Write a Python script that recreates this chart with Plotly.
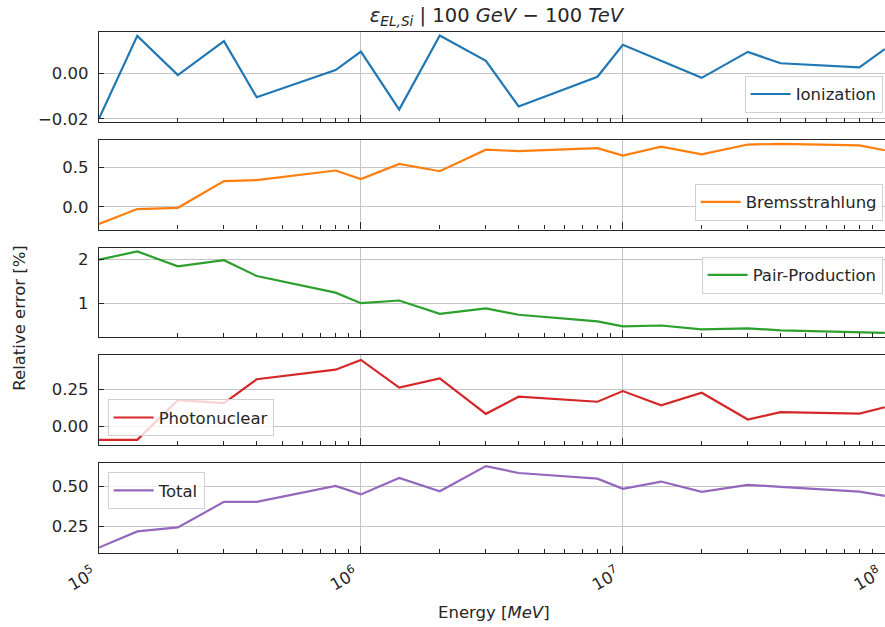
import plotly.graph_objects as go

# ---------------- data ----------------
energy_mev = [1e5, 1.4e5, 2e5, 3e5, 4e5, 8e5, 1e6, 1.4e6, 2e6, 3e6, 4e6, 8e6,
              1e7, 1.4e7, 2e7, 3e7, 4e7, 8e7, 1e8]

ionization = [-0.0199, 0.0163, -0.0009, 0.0140, -0.0106, 0.0013, 0.0094, -0.0160,
              0.0165, 0.0054, -0.0146, -0.0016, 0.0124, 0.0053, -0.0021, 0.0093,
              0.0043, 0.0025, 0.0105]
bremsstrahlung = [-0.218, -0.029, -0.013, 0.327, 0.340, 0.462, 0.353, 0.546, 0.453,
                  0.727, 0.709, 0.747, 0.651, 0.765, 0.668, 0.793, 0.801, 0.781, 0.72]
pair_production = [1.99, 2.18, 1.84, 1.98, 1.62, 1.24, 1.00, 1.06, 0.757, 0.88, 0.735,
                    0.584, 0.47, 0.49, 0.40, 0.425, 0.38, 0.34, 0.32]
photonuclear = [-0.091, -0.091, 0.178, 0.158, 0.319, 0.384, 0.45, 0.263, 0.325, 0.085,
                0.201, 0.167, 0.239, 0.143, 0.228, 0.047, 0.096, 0.087, 0.13]
total = [0.114, 0.216, 0.241, 0.402, 0.402, 0.502, 0.449, 0.553, 0.469, 0.627, 0.584,
         0.548, 0.484, 0.530, 0.465, 0.509, 0.497, 0.467, 0.44]

series_names = ["Ionization", "Bremsstrahlung", "Pair-Production", "Photonuclear", "Total"]
series_values = [ionization, bremsstrahlung, pair_production, photonuclear, total]
series_colors = ["#1f77b4", "#ff7f0e", "#2ca02c", "#d62728", "#9467bd"]

y_ranges = [[-0.0213, 0.0180], [-0.29, 0.853], [0.22, 2.266], [-0.127, 0.48], [0.080, 0.645]]
y_dticks = [0.02, 0.5, 1, 0.25, 0.25]
y_formats = [".2f", ".1f", "d", ".2f", ".2f"]

x_major = [1e5, 1e6, 1e7, 1e8]
x_major_text = ["10<sup>5</sup>", "10<sup>6</sup>", "10<sup>7</sup>", "10<sup>8</sup>"]
x_minor = [m * 10 ** d for d in (5, 6, 7) for m in range(2, 10)]

title_text = ("<i>ε</i><sub><i>EL,Si</i></sub> | 100 <i>GeV</i> − 100 <i>TeV</i>")
ylabel_text = "Relative error [%]"
xlabel_text = "Energy [<i>MeV</i>]"

# ---------------- layout constants ----------------
W, H = 885, 627
ML, MR, MT, MB = 99, 0, 32, 73.5
FONT = "DejaVu Sans"
FS = 16.5
INK = "#262626"
GRID = "#c4c4c4"

n = 5
ph = 89.8 / (H - MT - MB)
gap = (1 - n * ph) / (n - 1)
domains = []
for i in range(n):
    top = 1 - i * (ph + gap)
    domains.append([max(0, top - ph), min(1, top)])

legend_pos = [
    dict(x=0.997, y=0.845, xanchor="right", yanchor="bottom"),
    dict(x=0.997, y=0.638, xanchor="right", yanchor="bottom"),
    dict(x=0.997, y=0.569, xanchor="right", yanchor="top"),
    dict(x=0.011, y=0.224, xanchor="left", yanchor="bottom"),
    dict(x=0.011, y=0.155, xanchor="left", yanchor="top"),
]

fig = go.Figure()
layout = dict(
    width=W, height=H,
    margin=dict(l=ML, r=MR, t=MT, b=MB, pad=0, autoexpand=False),
    paper_bgcolor="white", plot_bgcolor="white",
    font=dict(family=FONT, size=FS, color=INK),
    showlegend=True,
)

for i in range(n):
    k = "" if i == 0 else str(i + 1)
    lg = "legend" if i == 0 else f"legend{i + 1}"
    fig.add_trace(go.Scatter(
        x=energy_mev, y=series_values[i], mode="lines", name=series_names[i],
        line=dict(color=series_colors[i], width=2.2),
        xaxis=f"x{k}", yaxis=f"y{k}", legend=lg, showlegend=True,
    ))
    layout[f"xaxis{k}"] = dict(
        type="log", range=[5, 8.0008], domain=[0, 1], anchor=f"y{k}",
        matches=None if i == 0 else "x", automargin=False,
        tickmode="array", tickvals=x_major, ticktext=x_major_text,
        showticklabels=(i == n - 1), tickangle=-30, ticklabeloverflow="allow",
        ticklabelshift=-6, ticklabelstandoff=4,
        ticks="inside", ticklen=7, tickwidth=1.2, tickcolor=INK,
        minor=dict(tickmode="array", tickvals=x_minor, ticks="inside",
                   ticklen=4, tickwidth=1, tickcolor=INK, showgrid=False),
        showgrid=True, gridcolor=GRID, gridwidth=1,
        showline=True, linecolor=INK, linewidth=1.3, mirror=True,
        zeroline=False, tickfont=dict(size=FS, color=INK),
    )
    layout[f"yaxis{k}"] = dict(
        domain=domains[i], anchor=f"x{k}", range=y_ranges[i], automargin=False,
        tickmode="linear", tick0=0, dtick=y_dticks[i], tickformat=y_formats[i],
        ticks="inside", ticklen=5, tickwidth=1.2, tickcolor=INK,
        showgrid=True, gridcolor=GRID, gridwidth=1,
        showline=True, linecolor=INK, linewidth=1.3, mirror=False,
        zeroline=False, ticklabelstandoff=6, tickfont=dict(size=FS, color=INK),
    )
    layout[lg] = dict(
        **legend_pos[i],
        bgcolor="rgba(255,255,255,0.8)", bordercolor="#d0d0d0", borderwidth=1,
        font=dict(family=FONT, size=FS, color=INK),
        itemwidth=40,
    )

fig.update_layout(**layout)
fig.update_layout(
    title=dict(text=title_text, x=(496.5 - ML) / (W - ML - MR), xref="paper",
               xanchor="center", y=1 - 15 / H, yref="container", yanchor="middle",
               font=dict(family=FONT, size=19.5, color=INK)),
)
fig.add_annotation(text=ylabel_text, xref="paper", yref="paper",
                   x=(20 - ML) / (W - ML - MR), y=(H - MB - 318) / (H - MT - MB),
                   xanchor="center", yanchor="middle", textangle=-90, showarrow=False,
                   font=dict(family=FONT, size=FS, color=INK))
fig.add_annotation(text=xlabel_text, xref="paper", yref="paper",
                   x=(494 - ML) / (W - ML - MR), y=(H - MB - 613) / (H - MT - MB),
                   xanchor="center", yanchor="middle", showarrow=False,
                   font=dict(family=FONT, size=FS, color=INK))

fig.write_html("out.html")
